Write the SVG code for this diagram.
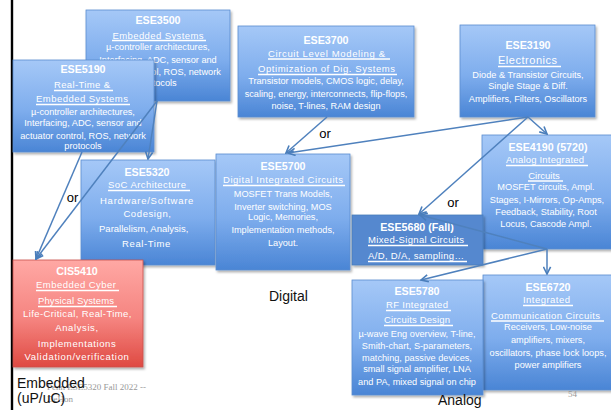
<svg xmlns="http://www.w3.org/2000/svg" width="611" height="410" viewBox="0 0 611 410">
<defs>
<linearGradient id="gb" x1="0" y1="0" x2="0" y2="1">
<stop offset="0" stop-color="#a5c8f7"/>
<stop offset="0.55" stop-color="#7eaded"/>
<stop offset="1" stop-color="#4a85d5"/>
</linearGradient>
<linearGradient id="gr" x1="0" y1="0" x2="0" y2="1">
<stop offset="0" stop-color="#ffa8a4"/>
<stop offset="0.55" stop-color="#f58480"/>
<stop offset="1" stop-color="#df4a42"/>
</linearGradient>
<filter id="sh" x="-10%" y="-10%" width="125%" height="125%">
<feDropShadow dx="1.5" dy="2" stdDeviation="1.2" flood-color="#000" flood-opacity="0.3"/>
</filter>
<marker id="ah" viewBox="0 0 10 10" refX="9" refY="5" markerWidth="9" markerHeight="9" markerUnits="userSpaceOnUse" orient="auto">
<path d="M1,1 L9,5 L1,9" fill="none" stroke="#4a7ebb" stroke-width="1.8"/>
</marker>
</defs>
<style>
.b{fill:url(#gb);stroke:#5b8dd0;stroke-width:0.8;filter:url(#sh)}
.f{fill:#5488cf;stroke:#4a7ebb;stroke-width:0.8;filter:url(#sh)}
.r{fill:url(#gr);stroke:#c8504c;stroke-width:0.8;filter:url(#sh)}
text{font-family:"Liberation Sans",Arial,sans-serif;fill:#fff;text-anchor:middle}
.t{font-size:10.7px;font-weight:bold}
.s{font-size:9.5px}
.d{font-size:9.2px}
.w{font-size:9.5px;letter-spacing:0.6px}
.ul{stroke:#fff;stroke-width:1.6}
.k{fill:#000;font-size:13px}
.lb{fill:#111;font-size:14px;text-anchor:start}
.g{fill:#999;font-family:"Liberation Serif","Times New Roman",serif;font-size:9px;text-anchor:start}
.c line{stroke:#4f81bd;stroke-width:1.5;marker-end:url(#ah)}
</style>
<rect x="0" y="0" width="611" height="410" fill="#fff"/>
<rect x="10.8" y="0" width="2.4" height="410" fill="#000"/>

<g id="ESE3500">
<rect class="b" x="86" y="10" width="144" height="91"/>
<text class="t" x="158" y="23.5">ESE3500</text>
<text class="s" x="158" y="38.5" textLength="91">Embedded Systems</text>
<line class="ul" x1="112" y1="40.5" x2="206" y2="40.5"/>
<text class="d" x="158" y="50">µ-controller architectures,</text>
<text class="d" x="158" y="63">Interfacing, ADC, sensor and</text>
<text class="d" x="158" y="75">actuator control, ROS, network</text>
<text class="d" x="158" y="86">protocols</text>
</g>

<g id="ESE5190">
<rect class="b" x="13" y="60" width="141" height="92"/>
<text class="t" x="83" y="73">ESE5190</text>
<text class="s" x="82" y="88" textLength="56">Real-Time &amp;</text>
<line class="ul" x1="54" y1="90.5" x2="113" y2="90.5"/>
<text class="s" x="82" y="102" textLength="92">Embedded Systems</text>
<line class="ul" x1="36" y1="104.5" x2="130" y2="104.5"/>
<text class="d" x="83" y="115">µ-controller architectures,</text>
<text class="d" x="83" y="126">Interfacing, ADC, sensor and</text>
<text class="d" x="83" y="138.5">actuator control, ROS, network</text>
<text class="d" x="83" y="149">protocols</text>
</g>

<g id="ESE3700">
<rect class="b" x="238" y="26" width="176" height="91"/>
<text class="t" x="326" y="44">ESE3700</text>
<text class="s" x="326.5" y="57" textLength="117">Circuit Level Modeling &amp;</text>
<line class="ul" x1="268" y1="59" x2="390" y2="59"/>
<text class="s" x="326.5" y="72" textLength="137">Optimization of Dig. Systems</text>
<line class="ul" x1="258" y1="74.5" x2="397" y2="74.5"/>
<text class="d" x="326" y="84">Transistor models, CMOS logic, delay,</text>
<text class="d" x="326" y="96.5">scaling, energy, interconnects, flip-flops,</text>
<text class="d" x="326" y="109">noise, T-lines, RAM design</text>
</g>

<g id="ESE3190">
<rect class="b" x="460" y="25" width="135" height="92"/>
<text class="t" x="528" y="49">ESE3190</text>
<text x="527.5" y="64" font-size="11" textLength="59">Electronics</text>
<line class="ul" x1="498" y1="66.5" x2="561" y2="66.5"/>
<text class="d" x="528" y="78">Diode &amp; Transistor Circuits,</text>
<text class="d" x="528" y="89">Single Stage &amp; Diff.</text>
<text class="d" x="528" y="102">Amplifiers, Filters, Oscillators</text>
</g>

<g id="ESE5320">
<rect class="b" x="81" y="160" width="134" height="105"/>
<text class="t" x="147" y="176" font-size="11">ESE5320</text>
<text class="s" x="147" y="188" textLength="78">SoC Architecture</text>
<line class="ul" x1="108" y1="190.5" x2="190" y2="190.5"/>
<text class="w" x="147" y="204" textLength="94">Hardware/Software</text>
<text class="w" x="147.5" y="217">Codesign,</text>
<text class="w" x="144" y="232" textLength="90">Parallelism, Analysis,</text>
<text class="w" x="146.5" y="247">Real-Time</text>
</g>

<g id="ESE5700">
<rect class="b" x="216" y="154" width="134" height="116"/>
<text class="t" x="283" y="170">ESE5700</text>
<text class="s" x="283" y="183" textLength="120">Digital Integrated Circuits</text>
<line class="ul" x1="223" y1="185.5" x2="345" y2="185.5"/>
<text class="d" x="283" y="197">MOSFET Trans Models,</text>
<text class="d" x="283" y="209.5">Inverter switching, MOS</text>
<text class="d" x="283" y="219.5">Logic, Memories,</text>
<text class="d" x="283" y="233">Implementation methods,</text>
<text class="d" x="283" y="246">Layout.</text>
</g>

<g id="ESE4190">
<rect class="b" x="482" y="135" width="135" height="114"/>
<text class="t" x="548" y="151">ESE4190 (5720)</text>
<text class="s" x="545" y="163" textLength="78">Analog Integrated</text>
<line class="ul" x1="506" y1="165.5" x2="588" y2="165.5"/>
<text class="s" x="544" y="179">Circuits</text>
<line class="ul" x1="528" y1="181" x2="563" y2="181"/>
<text class="d" x="546" y="190">MOSFET circuits, Ampl.</text>
<text class="d" x="547" y="203">Stages, I-Mirrors, Op-Amps,</text>
<text class="d" x="546" y="215">Feedback, Stability, Root</text>
<text class="d" x="546" y="227">Locus, Cascode Ampl.</text>
</g>

<g id="ESE5680">
<rect class="f" x="352" y="215" width="131" height="50"/>
<text class="t" x="417" y="231">ESE5680 (Fall)</text>
<text class="s" x="416" y="243" textLength="96">Mixed-Signal Circuits</text>
<line class="ul" x1="368" y1="245.5" x2="468" y2="245.5"/>
<text class="s" x="416" y="259" textLength="96">A/D, D/A, sampling…</text>
<line class="ul" x1="368" y1="261.5" x2="467" y2="261.5"/>
</g>

<g id="ESE6720">
<rect class="b" x="483" y="275" width="134" height="115"/>
<text class="t" x="548" y="291">ESE6720</text>
<text class="s" x="546.5" y="303" textLength="47">Integrated</text>
<line class="ul" x1="523" y1="305.5" x2="573" y2="305.5"/>
<text class="s" x="545.5" y="319" textLength="109">Communication Circuits</text>
<line class="ul" x1="491" y1="321" x2="604" y2="321"/>
<text class="d" x="548" y="329.5">Receivers, Low-noise</text>
<text class="d" x="548" y="343">amplifiers, mixers,</text>
<text class="d" x="548" y="356">oscillators, phase lock loops,</text>
<text class="d" x="548" y="367.5">power amplifiers</text>
</g>

<g id="ESE5780">
<rect class="b" x="352" y="280" width="131" height="115"/>
<text class="t" x="417" y="295">ESE5780</text>
<text class="s" x="417" y="308" textLength="62">RF Integrated</text>
<line class="ul" x1="386" y1="310.5" x2="451" y2="310.5"/>
<text class="s" x="417" y="323" textLength="66">Circuits Design</text>
<line class="ul" x1="384" y1="325.5" x2="453" y2="325.5"/>
<text class="d" x="417" y="336.5">µ-wave Eng overview, T-line,</text>
<text class="d" x="417" y="349">Smith-chart, S-parameters,</text>
<text class="d" x="417" y="360.5">matching, passive devices,</text>
<text class="d" x="417" y="371.5">small signal amplifier, LNA</text>
<text class="d" x="417" y="385">and PA, mixed signal on chip</text>
</g>

<g id="CIS5410">
<rect class="r" x="13" y="260" width="130" height="107"/>
<text class="t" x="77" y="275" font-size="11">CIS5410</text>
<text class="s" x="76" y="288" textLength="80">Embedded Cyber</text>
<line class="ul" x1="36" y1="290.5" x2="119" y2="290.5"/>
<text class="s" x="76" y="304" textLength="76">Physical Systems</text>
<line class="ul" x1="38" y1="306.5" x2="117" y2="306.5"/>
<text class="w" x="77.5" y="317" textLength="109">Life-Critical, Real-Time,</text>
<text class="w" x="77" y="331">Analysis,</text>
<text class="w" x="77" y="347">Implementations</text>
<text class="w" x="77" y="360" textLength="105">Validation/verification</text>
</g>

<g id="connectors" class="c">
<line x1="327" y1="117" x2="286" y2="153"/>
<line x1="528" y1="117" x2="288" y2="153"/>
<line x1="528" y1="117" x2="547" y2="134"/>
<line x1="528" y1="117" x2="419" y2="214"/>
<line x1="547" y1="249" x2="420" y2="215"/>
<line x1="547" y1="249" x2="421" y2="280"/>
<line x1="547" y1="249" x2="547" y2="274"/>
<line x1="157" y1="101" x2="148" y2="159"/>
<line x1="157" y1="101" x2="36" y2="259"/>
<line x1="82" y1="152" x2="36" y2="259"/>
</g>

<g id="labels">
<text class="k" x="325" y="137.5">or</text>
<text class="k" x="453" y="206.5">or</text>
<text class="k" x="72.5" y="201.5">or</text>
<text class="lb" x="269" y="301" font-size="14">Digital</text>
<text class="lb" x="438" y="405" font-size="14">Analog</text>
<text class="g" x="47" y="390">Penn ESE5320 Fall 2022 --</text>
<text class="g" x="47" y="402">DeHon</text>
<text class="g" x="568" y="397" font-size="8">54</text>
<text class="lb" x="17" y="388" font-size="14.5">Embedded</text>
<text class="lb" x="17" y="403" font-size="14.5">(uP/uC)</text>
</g>
</svg>
